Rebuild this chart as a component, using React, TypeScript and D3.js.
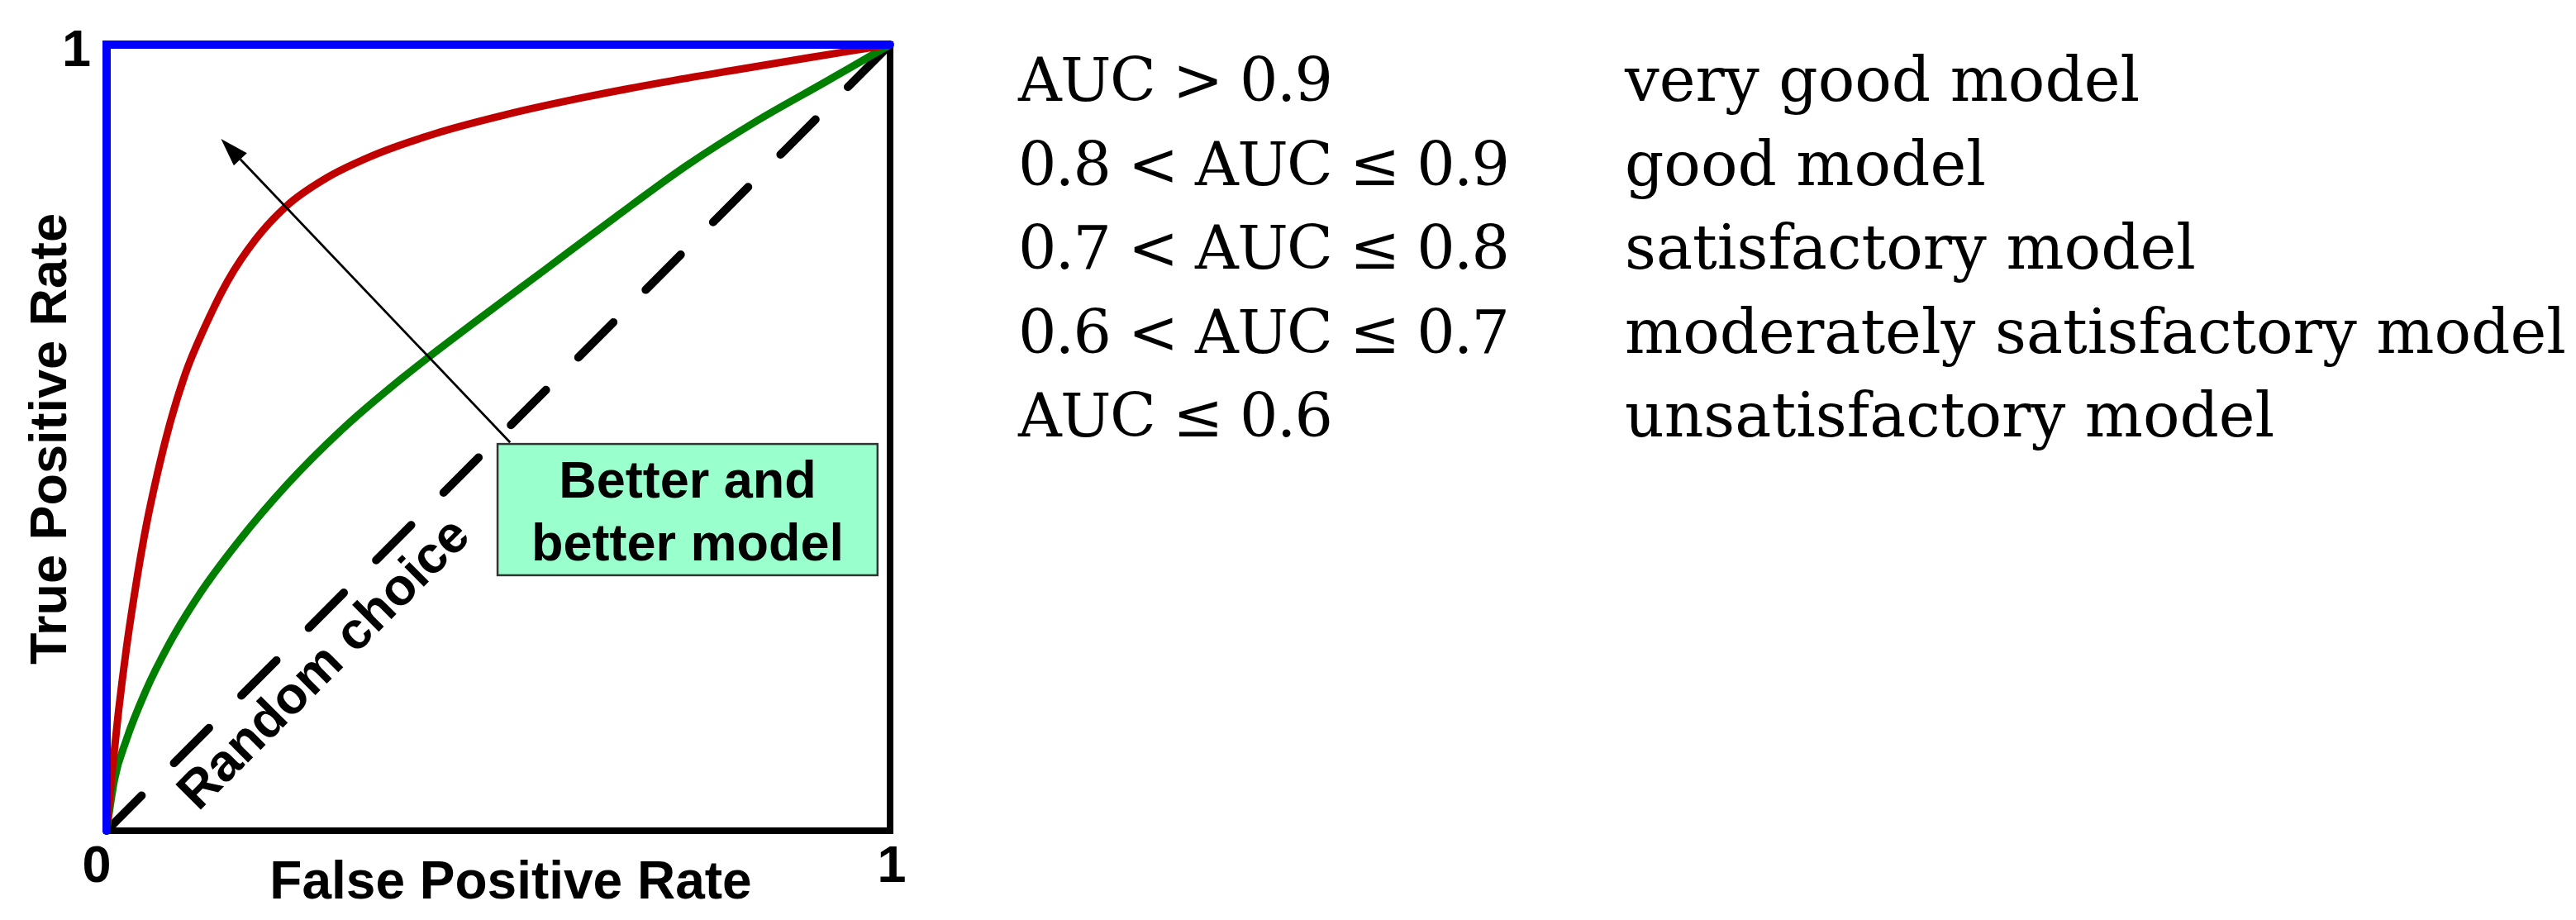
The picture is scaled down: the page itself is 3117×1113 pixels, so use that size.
import React from 'react';
import * as d3 from 'd3';

const W = 3117;
const H = 1113;

// Axis ticks and titles
const xTicks = [0, 1];
const yTicks = [1];
const xTitle = 'False Positive Rate';
const yTitle = 'True Positive Rate';

// ROC curves (false positive rate -> true positive rate)
const redFpr = [0, 0.007, 0.015, 0.025, 0.037, 0.05, 0.065, 0.08, 0.1, 0.125, 0.155, 0.19, 0.23, 0.28, 0.34, 0.42, 0.51, 0.61, 0.71, 0.81, 0.9, 1];
const redTpr = [0, 0.075, 0.15, 0.23, 0.31, 0.385, 0.455, 0.515, 0.58, 0.64, 0.7, 0.752, 0.795, 0.83, 0.859, 0.887, 0.911, 0.933, 0.952, 0.969, 0.984, 1];

const greenFpr = [0, 0.01, 0.025, 0.05, 0.08, 0.12, 0.17, 0.23, 0.3, 0.38, 0.47, 0.56, 0.65, 0.74, 0.83, 0.92, 1];
const greenTpr = [0, 0.065, 0.115, 0.178, 0.238, 0.303, 0.37, 0.44, 0.51, 0.578, 0.647, 0.714, 0.781, 0.846, 0.903, 0.954, 1];

const perfectFpr = [0, 0, 1];
const perfectTpr = [0, 1, 1];

const randomFpr = [0, 1];
const randomTpr = [0, 1];

// Annotations
const randomLabel = 'Random choice';
const randomLabelPos = [0.292, 0.198];
const boxLines = ['Better and', 'better model'];
const boxFpr = [0.499, 0.984];
const boxTpr = [0.325, 0.492];
const arrowFrom = [0.515, 0.494];
const arrowTo = [0.146, 0.88];

// AUC interpretation table
const aucRanges = ['AUC > 0.9', '0.8 < AUC ≤ 0.9', '0.7 < AUC ≤ 0.8', '0.6 < AUC ≤ 0.7', 'AUC ≤ 0.6'];
const aucMeaning = ['very good model', 'good model', 'satisfactory model', 'moderately satisfactory model', 'unsatisfactory model'];

const SANS = '"Liberation Sans", Arial, sans-serif';
const SERIF = '"DejaVu Serif", "Liberation Serif", serif';

export default function App() {
  const x = d3.scaleLinear().domain([0, 1]).range([129, 1077]);
  const y = d3.scaleLinear().domain([0, 1]).range([1005, 54]);

  const curve = d3
    .line<number[]>()
    .x((d) => x(d[0]))
    .y((d) => y(d[1]))
    .curve(d3.curveMonotoneX);
  const straight = d3
    .line<number[]>()
    .x((d) => x(d[0]))
    .y((d) => y(d[1]));

  const red = redFpr.map((f, i) => [f, redTpr[i]]);
  const green = greenFpr.map((f, i) => [f, greenTpr[i]]);
  const perfect = perfectFpr.map((f, i) => [f, perfectTpr[i]]);
  const random = randomFpr.map((f, i) => [f, randomTpr[i]]);

  // arrow geometry
  const ax0 = x(arrowFrom[0]);
  const ay0 = y(arrowFrom[1]);
  const ax1 = x(arrowTo[0]);
  const ay1 = y(arrowTo[1]);
  const ang = Math.atan2(ay1 - ay0, ax1 - ax0);
  const headLen = 34;
  const headHalf = 11;
  const bx = ax1 - headLen * Math.cos(ang);
  const by = ay1 - headLen * Math.sin(ang);
  const head = [
    [ax1, ay1],
    [bx + headHalf * Math.sin(ang), by - headHalf * Math.cos(ang)],
    [bx - headHalf * Math.sin(ang), by + headHalf * Math.cos(ang)],
  ];

  const rx = x(randomLabelPos[0]);
  const ry = y(randomLabelPos[1]);

  const bx0 = x(boxFpr[0]);
  const bx1 = x(boxFpr[1]);
  const by0 = y(boxTpr[1]);
  const by1 = y(boxTpr[0]);
  const bcx = (bx0 + bx1) / 2;

  const rowY = d3.scaleLinear().domain([0, 1]).range([122, 223.5]);

  return (
    <svg
      width={W}
      height={H}
      viewBox={`0 0 ${W} ${H}`}
      style={{ position: 'absolute', left: 0, top: 0, background: '#fff' }}
    >
      <rect x={0} y={0} width={W} height={H} fill="#fff" />
      {/* frame */}
      <rect
        x={x(0)}
        y={y(1)}
        width={x(1) - x(0)}
        height={y(0) - y(1)}
        fill="none"
        stroke="#000"
        strokeWidth={8}
      />
      {/* random choice diagonal */}
      <path
        d={straight(random) || ''}
        fill="none"
        stroke="#000"
        strokeWidth={10}
        strokeDasharray="60 55.5"
        strokeLinecap="round"
      />
      <path d={curve(green) || ''} fill="none" stroke="#007F00" strokeWidth={9} />
      <path d={curve(red) || ''} fill="none" stroke="#C00000" strokeWidth={9} />
      <path
        d={straight(perfect) || ''}
        fill="none"
        stroke="#0000FF"
        strokeWidth={10}
        strokeLinecap="round"
        strokeLinejoin="miter"
      />
      {/* arrow */}
      <line x1={ax0} y1={ay0} x2={bx} y2={by} stroke="#000" strokeWidth={2.8} />
      <polygon points={head.map((p) => p.join(',')).join(' ')} fill="#000" />
      {/* annotation box */}
      <rect
        x={bx0}
        y={by0}
        width={bx1 - bx0}
        height={by1 - by0}
        fill="#99FFCC"
        stroke="#333"
        strokeWidth={2.5}
      />
      {boxLines.map((t, i) => (
        <text
          key={t}
          x={bcx}
          y={by0 + 65 + i * 76}
          textAnchor="middle"
          fontFamily={SANS}
          fontWeight="bold"
          fontSize={63}
          fill="#000"
        >
          {t}
        </text>
      ))}
      {/* random choice label */}
      <text
        x={rx}
        y={ry}
        transform={`rotate(-45, ${rx}, ${ry})`}
        textAnchor="middle"
        fontFamily={SANS}
        fontWeight="bold"
        fontSize={63}
        fill="#000"
      >
        {randomLabel}
      </text>
      {/* tick labels */}
      {xTicks.map((t) => (
        <text
          key={'x' + t}
          x={x(t) + (t === 0 ? -12 : 2)}
          y={1067}
          textAnchor="middle"
          fontFamily={SANS}
          fontWeight="bold"
          fontSize={63}
          fill="#000"
        >
          {t}
        </text>
      ))}
      {yTicks.map((t) => (
        <text
          key={'y' + t}
          x={110}
          y={y(t) + 26}
          textAnchor="end"
          fontFamily={SANS}
          fontWeight="bold"
          fontSize={63}
          fill="#000"
        >
          {t}
        </text>
      ))}
      {/* axis titles */}
      <text
        x={618}
        y={1087}
        textAnchor="middle"
        fontFamily={SANS}
        fontWeight="bold"
        fontSize={64}
        fill="#000"
      >
        {xTitle}
      </text>
      <text
        x={80}
        y={531}
        transform="rotate(-90, 80, 531)"
        textAnchor="middle"
        fontFamily={SANS}
        fontWeight="bold"
        fontSize={63}
        fill="#000"
      >
        {yTitle}
      </text>
      {/* AUC table */}
      <g fontFamily={SERIF} fill="#000">
        {aucRanges.map((t, i) => (
          <text key={'r' + i} x={1232} y={rowY(i)} fontSize={73} letterSpacing={-1.6}>
            {t}
          </text>
        ))}
        {aucMeaning.map((t, i) => (
          <text key={'m' + i} x={1966} y={rowY(i)} fontSize={74}>
            {t}
          </text>
        ))}
      </g>
    </svg>
  );
}
